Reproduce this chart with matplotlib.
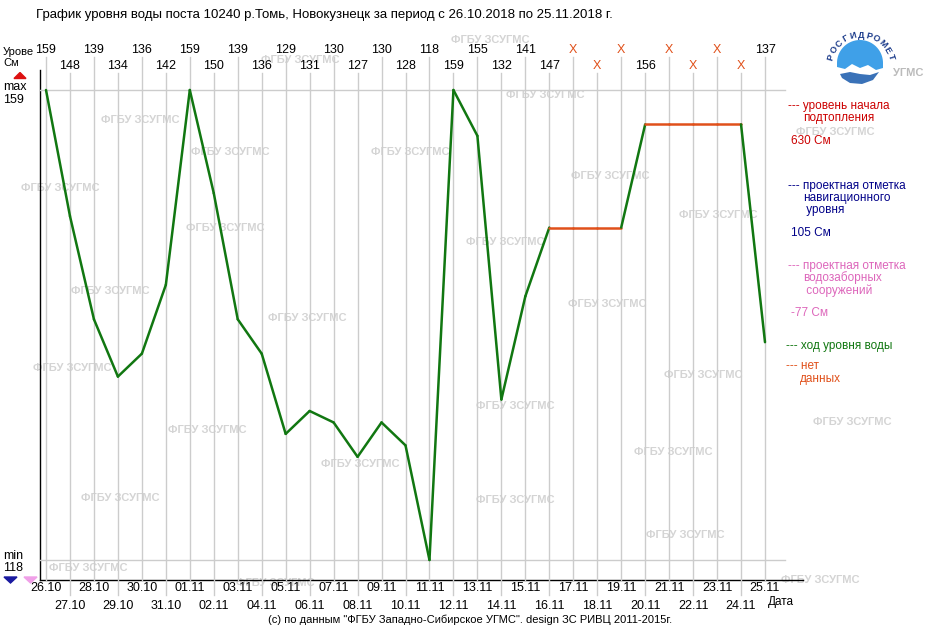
import numpy as np
import pandas as pd
import matplotlib
matplotlib.use("Agg")
import matplotlib.pyplot as plt
from matplotlib.patches import Polygon
from matplotlib.transforms import blended_transform_factory as blend

plt.rcParams['font.family'] = ['Liberation Sans', 'DejaVu Sans']

# data: water level, cm (None = no data)
dates = ["26.10", "27.10", "28.10", "29.10", "30.10", "31.10",
         "01.11", "02.11", "03.11", "04.11", "05.11", "06.11", "07.11", "08.11",
         "09.11", "10.11", "11.11", "12.11", "13.11", "14.11", "15.11", "16.11",
         "17.11", "18.11", "19.11", "20.11", "21.11", "22.11", "23.11", "24.11", "25.11"]
levels = [159, 148, 139, 134, 136, 142,
          159, 150, 139, 136, 129, 131, 130, 127,
          130, 128, 118, 159, 155, 132, 141, 147,
          None, None, None, 156, None, None, None, None, 137]

title = "График уровня воды поста 10240 р.Томь, Новокузнецк за период с 26.10.2018 по 25.11.2018 г."
legend_items = [
    ("--- уровень начала", ["подтопления"], "630 См", "#cc0000"),
    ("--- проектная отметка", ["навигационного", " уровня"], "105 См", "#000088"),
    ("--- проектная отметка", ["водозаборных", " сооружений"], "-77 См", "#dd66bb"),
]
watermark = "ФГБУ ЗСУГМС"

GREEN = "#117711"
ORANGE = "#e0501a"
GRID = "#cccccc"
WM = "#d4d4d4"

s = pd.Series(levels, dtype=float)
filled = s.ffill()
x = np.arange(len(dates))
vmax, vmin = s.max(), s.min()

fig = plt.figure(figsize=(9.4, 6.3), dpi=100)
# overlay in pixel coords for page layout
lay = fig.add_axes([0, 0, 1, 1])
lay.set_xlim(0, 940)
lay.set_ylim(630, 0)
lay.axis("off")

# data axes: pixel box 40..785 x 70..580
ax = fig.add_axes([40 / 940, 50 / 630, 745 / 940, 510 / 630])
ax.patch.set_alpha(0)
ax.axis("off")
step = (765 - 46) / 30
ax.set_xlim(-6 / step, -6 / step + 745 / step)
pxu = (560 - 90) / (vmax - vmin)
ax.set_ylim(vmin - 20 / pxu, vmax + 20 / pxu)

xpix = blend(ax.transData, lay.transData)
ypix = blend(lay.transData, ax.transData)

# watermarks
wm_pos = [(490, 40), (300, 60), (140, 120), (545, 95), (230, 152), (410, 152),
          (60, 188), (835, 132), (610, 176), (225, 228), (718, 215), (505, 242),
          (110, 291), (307, 318), (607, 304), (72, 368), (703, 375), (207, 430),
          (515, 406), (852, 422), (360, 464), (673, 452), (120, 498), (515, 500),
          (685, 535), (88, 568), (820, 580), (275, 583)]
for px, py in wm_pos:
    lay.text(px, py, watermark, color=WM, fontsize=8, fontweight="bold",
             ha="center", va="center", zorder=0)

# grid
for i in x:
    top, bot = (57, 580) if i % 2 == 0 else (73, 595)
    ax.plot([i, i], [top, bot], color=GRID, lw=1, transform=xpix, clip_on=False, zorder=1)
for v in (vmax, vmin):
    ax.plot([40, 785], [v, v], color=GRID, lw=1, transform=ypix, clip_on=False, zorder=1)

# axes lines
lay.plot([40, 40], [70, 580], color="black", lw=1)
lay.plot([40, 803], [580, 580], color="black", lw=1)

# level line: green where next value is observed, orange where no data
for i in range(len(x) - 1):
    c = GREEN if not np.isnan(s[i + 1]) else ORANGE
    ax.plot(x[i:i + 2], filled[i:i + 2], color=c, lw=1.8, zorder=3,
            solid_capstyle="round")

# top value labels and bottom date labels
for i, d in enumerate(dates):
    lab = "X" if np.isnan(s[i]) else str(int(s[i]))
    ty = 50 if i % 2 == 0 else 66
    ax.text(i, ty, lab, transform=xpix, ha="center", va="center", fontsize=9,
            color=ORANGE if lab == "X" else "black")
    dy = 588 if i % 2 == 0 else 606
    ax.text(i, dy, d, transform=xpix, ha="center", va="center", fontsize=9)

# header / left labels
lay.text(36, 15, title, fontsize=9.5, ha="left", va="center")
lay.text(3, 52, "Урове", fontsize=8, ha="left", va="center")
lay.text(3, 63, "Cм", fontsize=8, ha="left", va="center")
lay.text(3, 87, "max", fontsize=9, ha="left", va="center")
lay.text(3, 100, str(int(vmax)), fontsize=9, ha="left", va="center")
lay.text(3, 556, "min", fontsize=9, ha="left", va="center")
lay.text(3, 568, str(int(vmin)), fontsize=9, ha="left", va="center")
lay.add_patch(Polygon([[14, 78.5], [26, 78.5], [20, 72.5]], color="#dd1111"))
lay.add_patch(Polygon([[4, 577], [17, 577], [10.5, 583]], color="#1a1aa0"))
lay.add_patch(Polygon([[24, 577], [37, 577], [30.5, 583]], color="#f0a0e8"))
lay.text(768, 602, "Дата", fontsize=8.5, ha="left", va="center")
lay.text(470, 620, '(c) по данным "ФГБУ Западно-Сибирское УГМС". design ЗС РИВЦ 2011-2015г.',
         fontsize=8, ha="center", va="center")

# right legend
for (l1, sub, l3, col), y0 in zip(legend_items, [106, 186, 266]):
    lay.text(788, y0, l1, color=col, fontsize=8.5, ha="left", va="center")
    for k, line in enumerate(sub):
        lay.text(803, y0 + 12 + 12.5 * k, line, color=col, fontsize=8.5,
                 ha="left", va="center")
    lay.text(791, y0 + 35 + 12.5 * (len(sub) - 1), l3, color=col, fontsize=8.5,
             ha="left", va="center")
lay.text(786, 346, "--- ход уровня воды", color=GREEN, fontsize=8.5, ha="left", va="center")
lay.text(786, 366, "--- нет", color=ORANGE, fontsize=8.5, ha="left", va="center")
lay.text(800, 379, "данных", color=ORANGE, fontsize=8.5, ha="left", va="center")

# logo
t = np.linspace(np.pi, 0, 40)
arc = np.c_[860 + 23 * np.cos(t), 63 - 23 * np.sin(t)]
bottom = np.array([[883, 68], [876, 70], [868, 65], [860, 68], [852, 64], [845, 69], [837, 67]])
lay.add_patch(Polygon(np.vstack([arc, bottom]), color="#3fa0e8", lw=0))
wave = np.array([[840, 74], [850, 72], [860, 74], [870, 75], [879, 72],
                 [873, 80], [862, 84], [850, 83], [842, 78]])
lay.add_patch(Polygon(wave, color="#3a72b8", lw=0))
letters = "РОСГИДРОМЕТ"
angs = np.linspace(163, 17, len(letters))
for ch, a in zip(letters, angs):
    r = np.radians(a)
    lay.text(861 + 31 * np.cos(r), 66 - 31 * np.sin(r), ch, fontsize=6.5, fontweight="bold",
             color="#1a3a8a", ha="center", va="center", rotation=a - 90)
lay.text(908, 73, "УГМС", color="#bbbbbb", fontsize=8, fontweight="bold", ha="center", va="center")

fig.savefig("out.png", dpi=100)
